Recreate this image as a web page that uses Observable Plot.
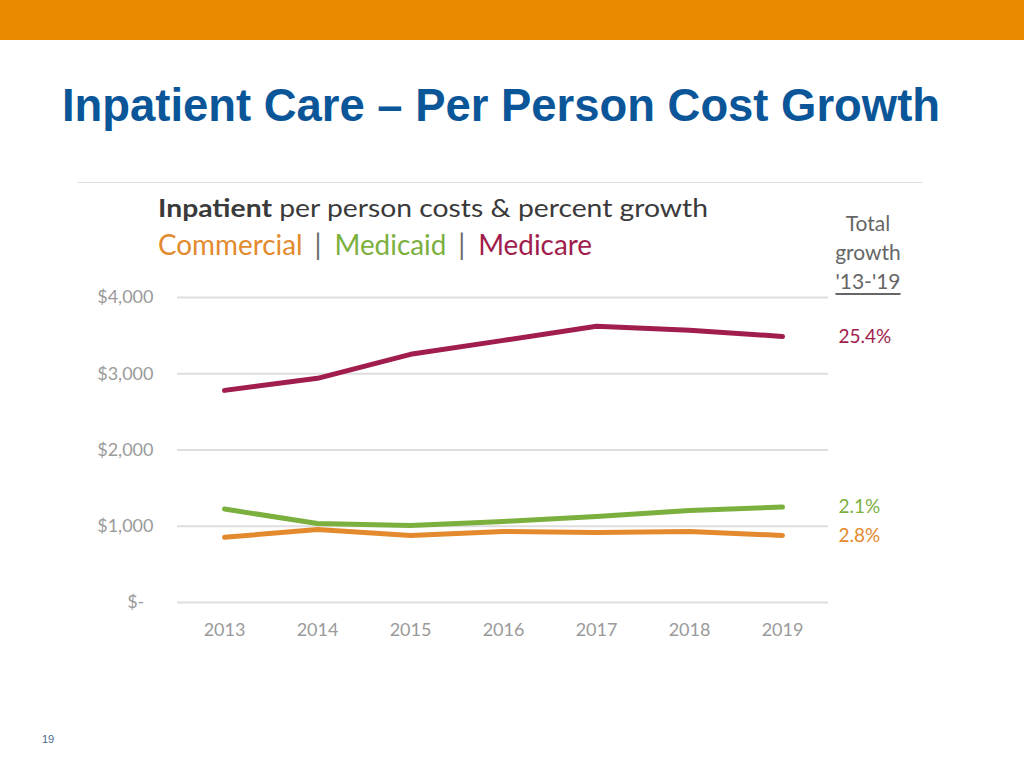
<!DOCTYPE html>
<html><head><meta charset="utf-8">
<script src="https://cdn.jsdelivr.net/npm/d3@7"></script>
<script src="https://cdn.jsdelivr.net/npm/@observablehq/plot@0.6"></script>
<style>
body{margin:0;width:1024px;height:768px;position:relative;background:#fff;overflow:hidden;font-family:Lato,"Open Sans",sans-serif}
#bar{position:absolute;left:0;top:0;width:1024px;height:40px;background:#E98A00}
#title{position:absolute;left:62px;top:78px;font:bold 46px "Liberation Sans",Arial,sans-serif;color:#0A5699;white-space:nowrap;transform-origin:0 0}
#hr{position:absolute;left:78px;top:182px;width:844px;height:1px;background:#dcdcdc}
#sub{position:absolute;left:158px;top:192px;font-size:25px;color:#3a3a3a;white-space:nowrap;transform-origin:0 0}
#leg{position:absolute;left:158px;top:227px;font-size:28px;white-space:nowrap;transform-origin:0 0}
#leg .sep{color:#6a6a6a;padding:0 13px 0 12px}
#tg{position:absolute;left:818px;top:208px;width:100px;text-align:center;font-size:21px;color:#666;line-height:29px}
#tg u{text-decoration-thickness:2px;text-underline-offset:4px}
#chart{position:absolute;left:0;top:280px}
#pg{position:absolute;left:42px;top:733px;font:11px "Liberation Sans",Arial,sans-serif;color:#4a6a8a}
</style></head>
<body>
<div id="bar"></div>
<div id="title">Inpatient Care – Per Person Cost Growth</div>
<div id="hr"></div>
<div id="sub"><b>Inpatient</b> per person costs &amp; percent growth</div>
<div id="leg"></div>
<div id="tg">Total<br>growth<br><u>'13-'19</u></div>
<div id="chart"></div>
<div id="pg">19</div>
<script>
const years = [2013, 2014, 2015, 2016, 2017, 2018, 2019];
const series = ["Commercial", "Medicaid", "Medicare"];
const colors = ["#E38A2E", "#7CB03E", "#A01D4D"];
const commercial = [855, 958, 879, 932, 919, 932, 879];
const medicaid = [1225, 1037, 1010, 1063, 1129, 1207, 1251];
const medicare = [2782, 2940, 3255, 3438, 3622, 3570, 3489];
const growth = ["2.8%", "2.1%", "25.4%"];
const yTicks = [0, 1000, 2000, 3000, 4000];

const values = [commercial, medicaid, medicare];
const data = series.flatMap((s, i) => years.map((yr, j) => ({series: s, year: yr, value: values[i][j]})));
const ends = series.map((s, i) => ({series: s, year: years[years.length - 1], value: values[i][years.length - 1], label: growth[i]}));

// legend
const leg = document.getElementById("leg");
leg.innerHTML = series.map((s, i) => `<span style="color:${colors[i]}">${s}</span>`).join('<span class="sep">|</span>');

const fmt = d => d === 0 ? "$-\u00a0\u00a0" : "$" + d3.format(",")(d);

const chart = Plot.plot({
  width: 1024, height: 380,
  marginLeft: 177, marginRight: 196, marginTop: 17, marginBottom: 58,
  x: {type: "point", domain: years, padding: 0.5, label: null},
  y: {domain: [0, 4000], label: null},
  color: {domain: series, range: colors},
  style: {fontFamily: "Lato, 'Open Sans', sans-serif", fontSize: "18px", color: "#9a9a9a", background: "transparent"},
  marks: [
    Plot.ruleY(yTicks, {stroke: "#dedede", strokeWidth: 2}),
    Plot.axisX({tickSize: 0, tickPadding: 21, tickFormat: d => String(d), fontSize: 18}),
    Plot.axisY({ticks: yTicks, tickSize: 0, tickPadding: 24, tickFormat: fmt, fontSize: 18}),
    Plot.lineY(data, {x: "year", y: "value", stroke: "series", strokeWidth: 5}),
    Plot.text(ends, {x: "year", y: "value", text: "label", fill: "series", dx: 56, textAnchor: "start", fontSize: 19})
  ]
});
document.getElementById("chart").append(chart);

function fit(id, w) {
  const el = document.getElementById(id);
  const r = el.getBoundingClientRect().width;
  el.style.transform = `scaleX(${w / r})`;
}
fit("title", 878);
fit("sub", 550);
fit("leg", 434);
</script>
</body></html>
